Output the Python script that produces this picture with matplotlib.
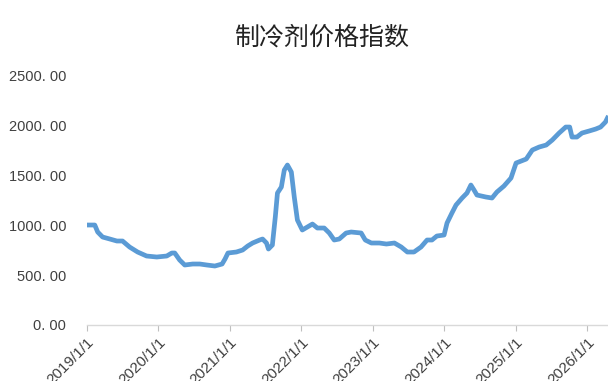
import numpy as np
import pandas as pd
import matplotlib
matplotlib.use('Agg')
import matplotlib.pyplot as plt
import matplotlib.dates as mdates

plt.rcParams['font.family'] = ['Liberation Sans', 'Noto Sans CJK SC', 'DejaVu Sans']

# refrigerant price index
dates = ['2019-01-01', '2019-02-10', '2019-02-25', '2019-03-22', '2019-04-28', '2019-06-03',
         '2019-07-02', '2019-08-07', '2019-09-17', '2019-11-02', '2019-12-24', '2020-02-13',
         '2020-03-10', '2020-03-25', '2020-04-19', '2020-05-15', '2020-06-25', '2020-07-31',
         '2020-09-05', '2020-10-16', '2020-11-22', '2020-12-07', '2020-12-22', '2021-02-03',
         '2021-03-07', '2021-04-02', '2021-04-27', '2021-06-02', '2021-06-17', '2021-07-07',
         '2021-07-17', '2021-08-06', '2021-08-21', '2021-09-01', '2021-09-21', '2021-10-06',
         '2021-10-22', '2021-11-11', '2021-11-26', '2021-12-12', '2022-01-06', '2022-02-01',
         '2022-02-27', '2022-03-24', '2022-04-28', '2022-05-24', '2022-06-18', '2022-07-14',
         '2022-08-18', '2022-09-13', '2022-11-03', '2022-11-24', '2022-12-25', '2023-02-04',
         '2023-03-12', '2023-04-22', '2023-05-27', '2023-06-27', '2023-07-31', '2023-09-05',
         '2023-10-06', '2023-10-31', '2023-11-25', '2024-01-01', '2024-01-16', '2024-02-10',
         '2024-03-02', '2024-04-02', '2024-04-27', '2024-05-17', '2024-06-02', '2024-06-17',
         '2024-08-02', '2024-09-02', '2024-09-27', '2024-11-02', '2024-12-08', '2025-01-03',
         '2025-01-29', '2025-02-24', '2025-03-27', '2025-05-01', '2025-06-06', '2025-07-07',
         '2025-08-11', '2025-09-14', '2025-10-04', '2025-10-16', '2025-11-10', '2025-12-06',
         '2026-01-11', '2026-02-14', '2026-03-11', '2026-04-05', '2026-04-15']
index_vals = [1000, 1000, 930, 880, 860, 840,
              840, 780, 730, 690, 680, 690,
              720, 720, 650, 600, 610, 610,
              600, 590, 610, 660, 720, 730,
              750, 790, 820, 850, 860, 820,
              760, 800, 1080, 1320, 1380, 1550,
              1600, 1530, 1280, 1050, 950, 980,
              1010, 970, 970, 920, 850, 860,
              920, 930, 920, 850, 820, 820,
              810, 820, 780, 730, 730, 780,
              850, 850, 890, 900, 1020, 1120,
              1200, 1270, 1320, 1400, 1350, 1300,
              1280, 1270, 1330, 1390, 1470, 1620,
              1640, 1660, 1750, 1780, 1800, 1850,
              1920, 1980, 1980, 1880, 1880, 1920,
              1940, 1960, 1980, 2030, 2070]
yticks = [0, 500, 1000, 1500, 2000, 2500]
years = ['2019', '2020', '2021', '2022', '2023', '2024', '2025', '2026']

x = pd.to_datetime(dates)

fig = plt.figure(figsize=(6.08, 3.81), dpi=100)
ax = fig.add_axes([0.143, 0.147, 0.857, 0.656])

ax.plot(x, index_vals, color='#5B9BD5', linewidth=3.4, solid_joinstyle='round')

ax.set_xlim(pd.Timestamp('2019-01-01'), pd.Timestamp('2026-04-18'))
ax.set_ylim(0, 2500)

ax.set_yticks(yticks)
ax.set_yticklabels(['%d. 00' % v for v in yticks])
ax.tick_params(axis='y', length=0, pad=15, labelsize=10.5, labelcolor='#404040')

tick_dates = [pd.Timestamp(y + '-01-01') for y in years]
ax.set_xticks(tick_dates)
ax.set_xticklabels([y + '/1/1' for y in years], rotation=45, ha='right', va='top',
                   rotation_mode='anchor')
ax.tick_params(axis='x', length=4, color='#BFBFBF', labelsize=11, labelcolor='#404040',
               pad=3)

for s in ['top', 'right', 'left']:
    ax.spines[s].set_visible(False)
ax.spines['bottom'].set_color('#D9D9D9')
ax.spines['bottom'].set_linewidth(1.0)

fig.text(322 / 608, 1 - 38 / 381, '制冷剂价格指数', ha='center', va='center',
         fontsize=18, color='#222222', family=['Noto Sans CJK SC', 'DejaVu Sans'])

fig.savefig('out.png', dpi=100)
